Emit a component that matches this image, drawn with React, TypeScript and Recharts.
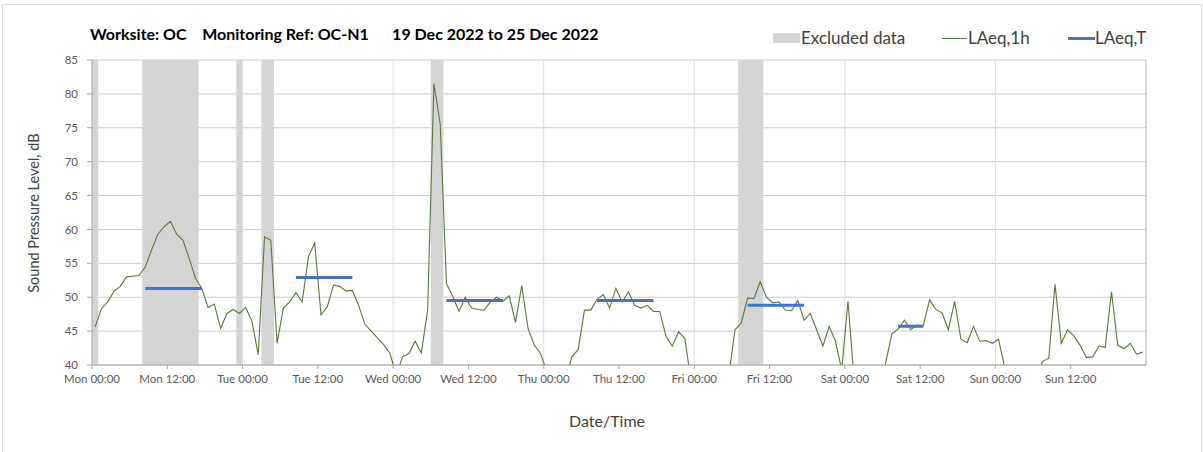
import React from 'react';
import {
  LineChart,
  Line,
  XAxis,
  YAxis,
  CartesianGrid,
  ReferenceArea,
  ReferenceLine,
} from 'recharts';

// tick labels along the time axis, one every 12 hours
const xTickHours = [0, 12, 24, 36, 48, 60, 72, 84, 96, 108, 120, 132, 144, 156];
const xTickLabels = [
  'Mon 00:00', 'Mon 12:00', 'Tue 00:00', 'Tue 12:00', 'Wed 00:00', 'Wed 12:00',
  'Thu 00:00', 'Thu 12:00', 'Fri 00:00', 'Fri 12:00', 'Sat 00:00', 'Sat 12:00',
  'Sun 00:00', 'Sun 12:00',
];
const dayBoundaries = [24, 48, 72, 96, 120, 144];
const yTicks = [40, 45, 50, 55, 60, 65, 70, 75, 80, 85];

// LAeq,1h, one value per hour starting Mon 00:00 (values < 40 fall off the axis)
const laeq1h = [
  45.6, 48.3, 49.3, 50.9, 51.6, 53.0, 53.1, 53.2, 54.5, 57.0, 59.3, 60.4,
  61.2, 59.3, 58.4, 55.7, 52.8, 51.3, 48.5, 49.0, 45.4, 47.6, 48.2, 47.6,
  48.5, 46.4, 41.5, 58.9, 58.4, 43.2, 48.4, 49.3, 50.7, 49.3, 56.0, 58.0,
  47.4, 48.6, 51.8, 51.6, 50.9, 51.0, 48.8, 46.0, 45.0, 44.0, 43.0, 41.7,
  38.5, 41.2, 41.7, 43.5, 41.8, 48.1, 81.5, 75.6, 52.0, 50.1, 47.9, 50.0,
  48.4, 48.2, 48.1, 49.3, 50.0, 49.4, 50.2, 46.3, 51.7, 45.4, 42.9, 41.7,
  39.0, 37.0, 36.5, 38.0, 41.2, 42.3, 48.1, 48.1, 49.7, 50.4, 48.4, 51.3,
  49.3, 50.8, 48.8, 48.4, 48.8, 47.9, 47.9, 44.2, 42.8, 44.9, 43.9, 37.5,
  36.5, 36.0, 36.0, 36.5, 37.0, 38.5, 45.2, 46.2, 49.9, 49.8, 52.3, 50.0,
  49.2, 49.3, 48.1, 48.0, 49.5, 46.6, 47.6, 45.2, 42.8, 45.7, 43.5, 39.3,
  49.4, 37.5, 36.5, 36.0, 36.0, 37.0, 40.3, 44.6, 45.3, 46.6, 45.2, 45.9,
  45.8, 49.6, 48.2, 47.7, 45.2, 49.4, 43.8, 43.3, 45.7, 43.5, 43.6, 43.2,
  43.8, 39.5, 37.0, 36.5, 36.0, 36.5, 38.0, 40.5, 41.0, 51.9, 43.2, 45.2,
  44.3, 42.9, 41.1, 41.2, 42.8, 42.6, 50.8, 42.9, 42.4, 43.2, 41.6, 41.9,
];

// excluded data periods (hours from Mon 00:00)
const excludedStart = [0, 8, 23, 27, 54, 103];
const excludedEnd = [1, 17, 24, 29, 56, 107];

// LAeq,T over each monitoring period (first hour .. last hour)
const periodStart = [8, 32, 56, 80, 104, 128];
const periodEnd = [17, 41, 65, 89, 113, 132];
const laeqT = [51.3, 52.9, 49.5, 49.5, 48.8, 45.7];

const hourlyData = laeq1h.map((v, i) => ({ t: i + 0.5, v }));
const periodData = periodStart.flatMap((s, i) => [
  { t: s + 0.5, v: laeqT[i] },
  { t: periodEnd[i] + 0.5, v: laeqT[i] },
  { t: periodEnd[i] + 1, v: null },
]);

const FONT = 'Lato, "Open Sans", sans-serif';
const GREEN = '#58783a';
const BLUE = '#4472c4';
const TEXT = '#404040';

const tickStyle = { fontSize: 11.5, fill: '#595959', fontFamily: FONT };

export default function App() {
  return (
    <div style={{ position: 'absolute', left: 0, top: 0, width: 1203, height: 452, background: '#fff', fontFamily: FONT, overflow: 'hidden' }}>
      <div style={{ position: 'absolute', left: 2, top: 4, width: 1198, height: 460, border: '1px solid #d9d9d9' }} />

      <div style={{ position: 'absolute', left: 90, top: 24, fontSize: 16, fontWeight: 700, color: '#000', whiteSpace: 'pre' }}>
        {'Worksite: OC    Monitoring Ref: OC-N1      19 Dec 2022 to 25 Dec 2022'}
      </div>

      {/* legend */}
      <div style={{ position: 'absolute', left: 773, top: 33, width: 27, height: 10, background: '#d4d4d4' }} />
      <div style={{ position: 'absolute', left: 801, top: 27, fontSize: 17, color: TEXT }}>Excluded data</div>
      <div style={{ position: 'absolute', left: 942, top: 38, width: 25, height: 1, background: GREEN }} />
      <div style={{ position: 'absolute', left: 968, top: 27, fontSize: 17, color: TEXT }}>LAeq,1h</div>
      <div style={{ position: 'absolute', left: 1068, top: 37, width: 27, height: 3, background: BLUE }} />
      <div style={{ position: 'absolute', left: 1095, top: 27, fontSize: 17, color: TEXT }}>LAeq,T</div>

      <div style={{ position: 'absolute', left: 33, top: 213, transform: 'translate(-50%, -50%) rotate(-90deg)', fontSize: 14.5, color: TEXT, whiteSpace: 'nowrap' }}>
        Sound Pressure Level, dB
      </div>
      <div style={{ position: 'absolute', left: 607, top: 420, transform: 'translate(-50%, -50%)', fontSize: 16, color: TEXT, whiteSpace: 'nowrap' }}>
        Date/Time
      </div>

      <div style={{ position: 'absolute', left: 0, top: 0 }}>
        <LineChart width={1203} height={452} margin={{ top: 60, right: 57, bottom: 57, left: 0 }}>
          <CartesianGrid vertical={false} stroke="#cccccc" />
          {excludedStart.map((s, i) => (
            <ReferenceArea key={`ex-${i}`} x1={s} x2={excludedEnd[i]} y1={40} y2={85} fill="#d4d4d4" fillOpacity={1} stroke="none" />
          ))}
          {dayBoundaries.map((d) => (
            <ReferenceLine key={`day-${d}`} x={d} stroke="#dedede" />
          ))}
          <ReferenceLine x={168} stroke="#b0b0b0" />
          <XAxis
            type="number"
            dataKey="t"
            domain={[0, 168]}
            ticks={xTickHours}
            interval={0}
            tickFormatter={(h: number) => xTickLabels[xTickHours.indexOf(h)]}
            tick={tickStyle}
            tickSize={4}
            tickMargin={6}
            stroke="#a6a6a6"
            height={30}
            allowDataOverflow
          />
          <YAxis
            type="number"
            domain={[40, 85]}
            ticks={yTicks}
            interval={0}
            tick={tickStyle}
            tickSize={5}
            tickMargin={9}
            stroke="#a6a6a6"
            width={92}
            allowDataOverflow
          />
          <Line
            data={hourlyData}
            dataKey="v"
            type="linear"
            stroke={GREEN}
            strokeWidth={1.1}
            dot={false}
            isAnimationActive={false}
          />
          <Line
            data={periodData}
            dataKey="v"
            type="linear"
            stroke={BLUE}
            strokeWidth={3}
            dot={false}
            connectNulls={false}
            isAnimationActive={false}
          />
        </LineChart>
      </div>
    </div>
  );
}
